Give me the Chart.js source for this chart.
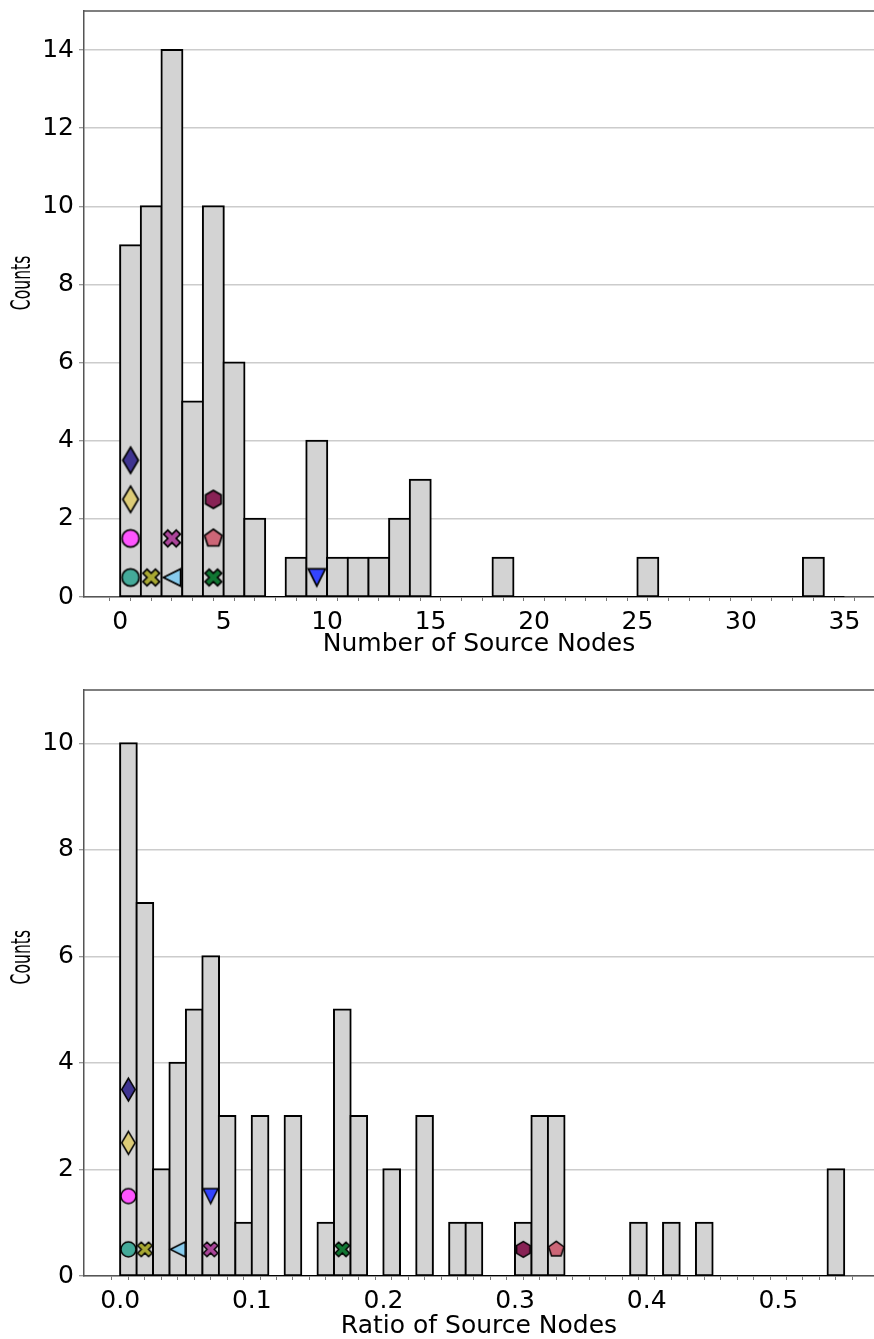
<!DOCTYPE html>
<html>
<head>
<meta charset="utf-8">
<script src="https://cdn.jsdelivr.net/npm/chart.js@4.4.1/dist/chart.umd.min.js"></script>
<style>
html, body { margin: 0; padding: 0; background: #ffffff; overflow: hidden; }
#wrap { position: relative; width: 874px; height: 1339px; overflow: hidden; }
#topChart { position: absolute; left: 0; top: 0; }
#bottomChart { position: absolute; left: 0; top: 670px; }
</style>
</head>
<body>
<div id="wrap">
<canvas id="topChart" width="874" height="670"></canvas>
<canvas id="bottomChart" width="874" height="700"></canvas>
</div>
<script>
// ---------------- DATA ----------------
// Histogram of number of source nodes (bin width 1, starting at 0)
const countBinStart = 0;
const countBinWidth = 1;
const countHist = [9, 10, 14, 5, 10, 6, 2, 0, 1, 4, 1, 1, 1, 2, 3, 0, 0, 0, 1, 0, 0, 0, 0, 0, 0, 1, 0, 0, 0, 0, 0, 0, 0, 1, 0];

// Histogram of ratio of source nodes (bin width 0.0125, starting at 0)
const ratioBinStart = 0;
const ratioBinWidth = 0.0125;
const ratioHist = [10, 7, 2, 4, 5, 6, 3, 1, 3, 0, 3, 0, 1, 5, 3, 0, 2, 0, 3, 0, 1, 1, 0, 0, 1, 3, 3, 0, 0, 0, 0, 1, 0, 1, 0, 1, 0, 0, 0, 0, 0, 0, 0, 2];

// Visible axis limits
const countXLimits = [-1.75, 36.43];
const ratioXLimits = [-0.0275, 0.5727];

// Tick labels
const countTickLabels = ['0', '5', '10', '15', '20', '25', '30', '35'];
const ratioTickLabels = ['0.0', '0.1', '0.2', '0.3', '0.4', '0.5'];
const countYTicks = [0, 2, 4, 6, 8, 10, 12, 14];
const ratioYTicks = [0, 2, 4, 6, 8, 10];

// Highlighted networks (markers)
const markerIds = ['teal', 'olive', 'cyan', 'green', 'blue', 'magenta', 'purple', 'rose', 'sand', 'wine', 'indigo'];
const markerCountX = [0.5, 1.5, 2.5, 4.5, 9.5, 0.5, 2.5, 4.5, 0.5, 4.5, 0.5];
const markerCountY = [0.5, 0.5, 0.5, 0.5, 0.5, 1.5, 1.5, 1.5, 2.5, 2.5, 3.5];
const markerRatioX = [0.00625, 0.01875, 0.04375, 0.16875, 0.06875, 0.00625, 0.06875, 0.33125, 0.00625, 0.30625, 0.00625];
const markerRatioY = [0.5, 0.5, 0.5, 0.5, 1.5, 1.5, 0.5, 0.5, 2.5, 0.5, 3.5];

// ---------------- STYLES ----------------
const markerStyles = {
  teal:    { shape: 'circle',      color: '#44AA99' },
  olive:   { shape: 'xFilled',     color: '#A8A833' },
  cyan:    { shape: 'triLeft',     color: '#88CCEE' },
  green:   { shape: 'xFilled',     color: '#117733' },
  blue:    { shape: 'triDown',     color: '#3344FF' },
  magenta: { shape: 'circle',      color: '#FF55FF' },
  purple:  { shape: 'xFilled',     color: '#AA4499' },
  rose:    { shape: 'pentagon',    color: '#CC6677' },
  sand:    { shape: 'thinDiamond', color: '#DDCC77' },
  wine:    { shape: 'hexagon',     color: '#882255' },
  indigo:  { shape: 'thinDiamond', color: '#3F3491' }
};

const FONT = "'DejaVu Sans', 'Liberation Sans', sans-serif";

function makeMarker(shape, color, k) {
  const S = Math.round(36 * k) + 4;
  const c = document.createElement('canvas');
  c.width = S; c.height = S;
  const g = c.getContext('2d');
  g.translate(S / 2, S / 2);
  g.beginPath();
  const r = 8.6 * k;
  const poly = (pts) => { pts.forEach((p, i) => i ? g.lineTo(p[0], p[1]) : g.moveTo(p[0], p[1])); g.closePath(); };
  if (shape === 'circle') {
    g.arc(0, 0, r, 0, Math.PI * 2);
  } else if (shape === 'thinDiamond') {
    poly([[0, -13.2 * k], [7.8 * k, 0], [0, 13.2 * k], [-7.8 * k, 0]]);
  } else if (shape === 'xFilled') {
    const u = 4.2 * k;
    poly([[-1, -2], [0, -1], [1, -2], [2, -1], [1, 0], [2, 1], [1, 2], [0, 1], [-1, 2], [-2, 1], [-1, 0], [-2, -1]].map(p => [p[0] * u, p[1] * u]));
  } else if (shape === 'hexagon') {
    const R = 9.0 * k; const pts = [];
    for (let i = 0; i < 6; i++) { const a = -Math.PI / 2 + i * Math.PI / 3; pts.push([R * Math.cos(a), R * Math.sin(a)]); }
    poly(pts);
  } else if (shape === 'pentagon') {
    const R = 9.3 * k; const pts = [];
    for (let i = 0; i < 5; i++) { const a = -Math.PI / 2 + i * 2 * Math.PI / 5; pts.push([R * Math.cos(a), R * Math.sin(a)]); }
    poly(pts);
  } else if (shape === 'triLeft') {
    poly([[-r, 0], [r, -r], [r, r]]);
  } else if (shape === 'triDown') {
    poly([[0, r], [-r, -r], [r, -r]]);
  }
  g.fillStyle = color;
  g.fill();
  g.lineWidth = 1.7 * k;
  g.strokeStyle = '#000000';
  g.lineJoin = 'miter';
  g.stroke();
  return c;
}

// top spine of the axes frame
const topSpine = {
  id: 'topSpine',
  afterDatasetsDraw(chart) {
    const { ctx, chartArea: a } = chart;
    ctx.save();
    ctx.strokeStyle = '#555555';
    ctx.lineWidth = 1.5;
    ctx.beginPath();
    ctx.moveTo(a.left, a.top);
    ctx.lineTo(a.right + 10, a.top);
    ctx.stroke();
    ctx.restore();
  }
};

// y-axis title (drawn narrow, as in the reference figure)
const yTitle = {
  id: 'yTitle',
  afterDraw(chart, args, opts) {
    const { ctx, chartArea: a } = chart;
    ctx.save();
    ctx.translate(opts.x, a.top + opts.frac * (a.bottom - a.top));
    ctx.rotate(-Math.PI / 2);
    ctx.scale(opts.squeeze, 1);
    ctx.font = opts.size + 'px ' + FONT;
    ctx.fillStyle = '#000000';
    ctx.textAlign = 'center';
    ctx.textBaseline = 'middle';
    ctx.fillText(opts.text, 0, 0);
    ctx.restore();
  }
};

function buildHistogram(canvasId, cfg) {
  const n = cfg.hist.length;
  const edges = [];
  for (let i = 0; i <= n; i++) edges.push(cfg.binStart + i * cfg.binWidth);
  const dataEnd = edges[n];
  const tickNums = cfg.tickLabels.map(Number);

  const datasets = [];
  markerIds.forEach((id, i) => {
    const st = markerStyles[id];
    datasets.push({
      type: 'scatter',
      label: id,
      data: [{ x: cfg.markerX[i], y: cfg.markerY[i] }],
      pointStyle: makeMarker(st.shape, st.color, cfg.markerScale),
      pointRadius: 6,
      order: 0
    });
  });
  datasets.push({
    type: 'line',
    label: 'baseline',
    data: [{ x: cfg.binStart, y: 0 }, { x: dataEnd, y: 0 }],
    borderColor: '#000000',
    borderWidth: 2,
    pointRadius: 0,
    order: 1
  });
  datasets.push({
    type: 'bar',
    label: 'hist',
    data: cfg.hist.map((v, i) => ({ x: cfg.binStart + (i + 0.5) * cfg.binWidth, y: v })),
    backgroundColor: '#D3D3D3',
    borderColor: '#000000',
    borderWidth: 2,
    borderSkipped: false,
    inflateAmount: 1.1,
    barPercentage: 1,
    categoryPercentage: 1,
    order: 2
  });

  return new Chart(document.getElementById(canvasId), {
    type: 'bar',
    data: { datasets },
    plugins: [topSpine, yTitle],
    options: {
      responsive: false,
      animation: false,
      events: [],
      layout: { autoPadding: false, padding: { top: cfg.padTop, left: 0, right: 0, bottom: 0 } },
      plugins: {
        legend: { display: false },
        tooltip: { enabled: false },
        yTitle: { text: 'Counts', x: 23, frac: cfg.yTitleFrac, size: 26, squeeze: 0.6 }
      },
      scales: {
        x: {
          type: 'linear',
          min: cfg.xLimits[0],
          max: cfg.xLimits[1],
          offset: false,
          afterBuildTicks: (scale) => { scale.ticks = edges.map(v => ({ value: v })); },
          afterFit: (scale) => { scale.height = cfg.xAxisHeight; scale.paddingLeft = 0; scale.paddingRight = 0; scale.paddingTop = 0; scale.paddingBottom = 0; },
          grid: { display: true, drawOnChartArea: false, drawTicks: true, tickLength: 4, tickColor: '#777777', tickWidth: 1 },
          border: { display: true, color: '#555555', width: 1.5 },
          ticks: {
            autoSkip: false, maxRotation: 0, minRotation: 0, padding: cfg.xTickPad, color: '#000000',
            font: { family: FONT, size: 25 },
            callback: (value) => {
              const j = tickNums.findIndex(t => Math.abs(t - value) < cfg.binWidth * 1e-3);
              return j >= 0 ? cfg.tickLabels[j] : '';
            }
          },
          title: { display: true, text: cfg.xTitle, color: '#000000', font: { family: FONT, size: 25 }, padding: { top: 0, bottom: cfg.xTitlePadBottom } }
        },
        y: {
          type: 'linear',
          min: 0,
          max: cfg.yMax,
          afterBuildTicks: (scale) => { scale.ticks = cfg.yTicks.map(v => ({ value: v })); },
          afterFit: (scale) => { scale.width = 84; scale.paddingTop = 0; scale.paddingBottom = 0; scale.paddingLeft = 0; scale.paddingRight = 0; },
          grid: { color: '#CCCCCC', lineWidth: 1.5, drawTicks: true, tickLength: 5, tickColor: '#777777', tickWidth: 1 },
          border: { display: true, color: '#555555', width: 1.5 },
          ticks: { padding: 5, color: '#000000', font: { family: FONT, size: 25 } },
          title: { display: false }
        }
      }
    }
  });
}

buildHistogram('topChart', {
  hist: countHist, binStart: countBinStart, binWidth: countBinWidth, xLimits: countXLimits,
  tickLabels: countTickLabels, yTicks: countYTicks, yMax: 15,
  markerX: markerCountX, markerY: markerCountY, markerScale: 1,
  xTitle: 'Number of Source Nodes', yTitleFrac: 0.464,
  padTop: 11, xAxisHeight: 73, xTickPad: 6, xTitlePadBottom: 11
});

buildHistogram('bottomChart', {
  hist: ratioHist, binStart: ratioBinStart, binWidth: ratioBinWidth, xLimits: ratioXLimits,
  tickLabels: ratioTickLabels, yTicks: ratioYTicks, yMax: 11,
  markerX: markerRatioX, markerY: markerRatioY, markerScale: 0.87,
  xTitle: 'Ratio of Source Nodes', yTitleFrac: 0.456,
  padTop: 20, xAxisHeight: 94, xTickPad: 6, xTitlePadBottom: 29
});
</script>
</body>
</html>
